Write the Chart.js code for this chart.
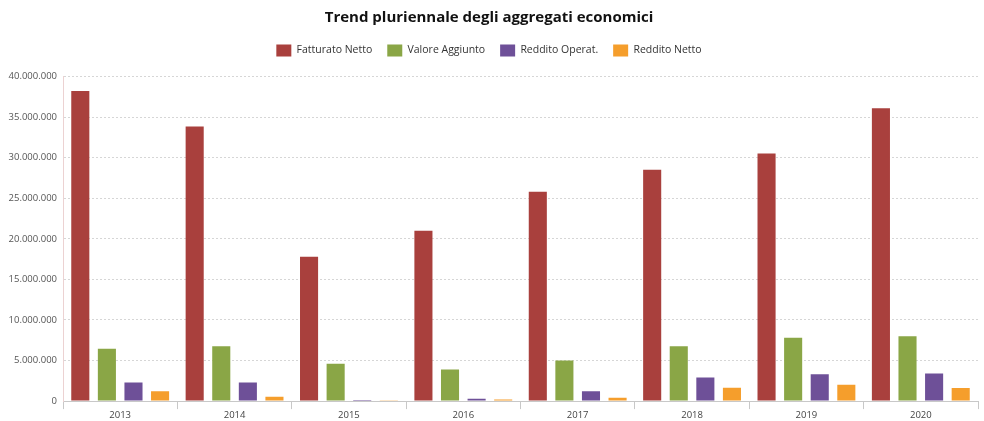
<!DOCTYPE html>
<html>
<head>
<meta charset="utf-8">
<script src="https://cdn.jsdelivr.net/npm/chart.js@4"></script>
<style>
    html, body { margin: 0; padding: 0; background: #fff; }
    #wrap { width: 984px; height: 421px; }
</style>
</head>
<body>
<div id="wrap"><canvas id="trendChart" width="984" height="421"></canvas></div>
<script>
// anni e serie (valori in euro)
const years = ['2013', '2014', '2015', '2016', '2017', '2018', '2019', '2020'];
const fatturatoNetto = [38200000, 33850000, 17800000, 21000000, 25800000, 28500000, 30500000, 36100000];
const valoreAggiunto = [6450000, 6750000, 4600000, 3900000, 5000000, 6750000, 7800000, 8000000];
const redditoOperat = [2300000, 2300000, 150000, 300000, 1200000, 2900000, 3300000, 3400000];
const redditoNetto = [1200000, 550000, 50000, 200000, 400000, 1650000, 2000000, 1600000];
const yTicks = [0, 5000000, 10000000, 15000000, 20000000, 25000000, 30000000, 35000000, 40000000];

const fontFamily = "'Open Sans', 'Noto Sans', sans-serif";

function formatIt(v) {
    return String(Math.round(v)).replace(/\B(?=(\d{3})+(?!\d))/g, '.');
}

// spazio extra sotto la legenda
const legendMargin = {
    id: 'legendMargin',
    beforeInit: function (chart) {
        const origFit = chart.legend.fit;
        chart.legend.fit = function () {
            origFit.bind(chart.legend)();
            this.height += 10;
        };
    }
};

new Chart(document.getElementById('trendChart').getContext('2d'), {
    type: 'bar',
    data: {
        labels: years,
        datasets: [
            { label: 'Fatturato Netto', data: fatturatoNetto, backgroundColor: '#A9403D' },
            { label: 'Valore Aggiunto', data: valoreAggiunto, backgroundColor: '#8AA646' },
            { label: 'Reddito Operat.', data: redditoOperat, backgroundColor: '#6E5098' },
            { label: 'Reddito Netto', data: redditoNetto, backgroundColor: '#F59E2C' }
        ]
    },
    plugins: [legendMargin],
    options: {
        responsive: false,
        animation: false,
        layout: { padding: { left: 0, right: 6, top: 7, bottom: 0.5 } },
        datasets: {
            bar: { categoryPercentage: 0.93, barPercentage: 0.68 }
        },
        plugins: {
            title: {
                display: true,
                text: 'Trend pluriennale degli aggregati economici',
                color: '#111',
                font: { family: fontFamily, size: 15, weight: 'bold' },
                padding: { top: 2, bottom: 2.5 }
            },
            legend: {
                position: 'top',
                labels: {
                    boxWidth: 15,
                    boxHeight: 12,
                    padding: 15,
                    color: '#333',
                    font: { family: fontFamily, size: 10.5 }
                }
            },
            tooltip: { enabled: false }
        },
        scales: {
            x: {
                grid: {
                    offset: true,
                    drawOnChartArea: false,
                    drawTicks: true,
                    tickLength: 8,
                    color: '#c8c8c8'
                },
                border: { color: '#c8c8c8' },
                ticks: {
                    color: '#444',
                    padding: 0,
                    font: { family: fontFamily, size: 9.5 }
                }
            },
            y: {
                min: 0,
                max: 40000000,
                afterFit: function (scale) { scale.width = 63; },
                afterBuildTicks: function (scale) {
                    scale.ticks = yTicks.map(function (v) { return { value: v }; });
                },
                grid: {
                    color: '#d6d6d6',
                    drawTicks: false
                },
                border: { color: '#ecd2d2', dash: [2, 2] },
                ticks: {
                    color: '#555',
                    padding: 6,
                    font: { family: fontFamily, size: 9.5 },
                    callback: function (v) { return formatIt(v); }
                }
            }
        }
    }
});
</script>
</body>
</html>
